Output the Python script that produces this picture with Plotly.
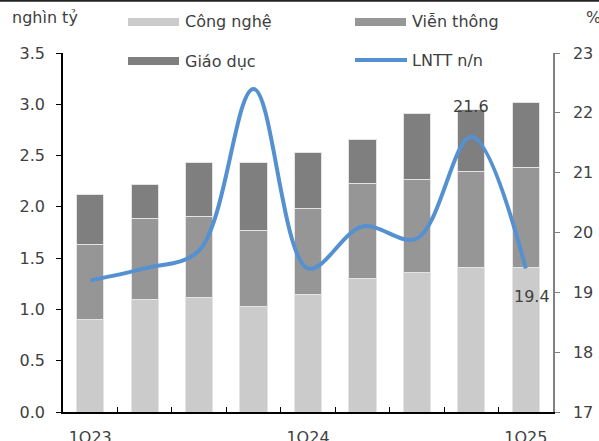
import plotly.graph_objects as go

# Quarterly data
quarters = ["1Q23", "2Q23", "3Q23", "4Q23", "1Q24", "2Q24", "3Q24", "4Q24", "1Q25"]
tick_text = ["1Q23", "", "", "", "1Q24", "", "", "", "1Q25"]
cong_nghe = [0.90, 1.10, 1.12, 1.03, 1.15, 1.30, 1.36, 1.41, 1.41]
vien_thong = [0.73, 0.79, 0.79, 0.74, 0.83, 0.93, 0.91, 0.93, 0.97]
giao_duc = [0.49, 0.33, 0.52, 0.66, 0.55, 0.43, 0.64, 0.61, 0.64]
lntt_yoy = [19.2, 19.4, 19.7, 22.4, 19.4, 20.1, 19.9, 21.6, 19.4]
left_ticks = [0.0, 0.5, 1.0, 1.5, 2.0, 2.5, 3.0, 3.5]
right_ticks = [17, 18, 19, 20, 21, 22, 23]

FONT = "DejaVu Sans"
TXT = "#404040"
W, H = 599, 441
L, R, T, B = 63, 46, 53, 29
PW, PH = W - L - R, H - T - B


def px(x):
    return (x - L) / PW


def py(y):
    return (H - B - y) / PH


colors = {"Công nghệ": "#cbcbcb", "Viễn thông": "#969696", "Giáo dục": "#7f7f7f"}
line_color = "#5591d1"

fig = go.Figure()
for name, vals in [("Công nghệ", cong_nghe), ("Viễn thông", vien_thong), ("Giáo dục", giao_duc)]:
    fig.add_trace(go.Bar(
        x=quarters, y=vals, name=name, width=0.5,
        marker=dict(color=colors[name], line=dict(color="#e4e4e4", width=1)),
        showlegend=False,
    ))

fig.add_trace(go.Scatter(
    x=quarters, y=lntt_yoy, name="LNTT n/n", yaxis="y2", mode="lines",
    line=dict(color=line_color, width=4, shape="spline", smoothing=1.0),
    showlegend=False,
))

# value labels on the last two points of the line
fig.add_annotation(x=quarters[7], y=lntt_yoy[7], yref="y2", text=f"{lntt_yoy[7]:.1f}",
                   showarrow=False, yshift=30, font=dict(family=FONT, size=16, color=TXT))
fig.add_annotation(x=quarters[8], y=lntt_yoy[8], yref="y2", text=f"{lntt_yoy[8]:.1f}",
                   showarrow=False, yshift=-28, xshift=6, font=dict(family=FONT, size=16, color=TXT))

# legend drawn as swatches + labels in a 2x2 grid
legend_items = [
    ("Công nghệ", 128, 22, "bar"),
    ("Viễn thông", 355, 22, "bar"),
    ("Giáo dục", 128, 61, "bar"),
    ("LNTT n/n", 355, 60, "line"),
]
shapes = []
for name, x0, yc, kind in legend_items:
    if kind == "bar":
        shapes.append(dict(type="rect", xref="paper", yref="paper",
                           x0=px(x0), x1=px(x0 + 51), y0=py(yc - 4), y1=py(yc + 4),
                           fillcolor=colors[name], line=dict(width=0)))
    else:
        shapes.append(dict(type="line", xref="paper", yref="paper",
                           x0=px(x0), x1=px(x0 + 52), y0=py(yc), y1=py(yc),
                           line=dict(color=line_color, width=4)))
    fig.add_annotation(xref="paper", yref="paper", x=px(x0 + 55), y=py(yc), text=name,
                       showarrow=False, xanchor="left", yanchor="middle",
                       font=dict(family=FONT, size=16, color=TXT))

# unit labels
fig.add_annotation(xref="paper", yref="paper", x=px(10), y=py(18), text="nghìn tỷ",
                   showarrow=False, xanchor="left", yanchor="middle",
                   font=dict(family=FONT, size=16, color=TXT))
fig.add_annotation(xref="paper", yref="paper", x=px(584), y=py(18), text="%",
                   showarrow=False, xanchor="left", yanchor="middle",
                   font=dict(family=FONT, size=16, color=TXT))

# thin frame line along the top edge
shapes.append(dict(type="line", xref="paper", yref="paper", x0=px(0), x1=px(W),
                   y0=py(0.8), y1=py(0.8), line=dict(color="#222222", width=2)))

fig.update_layout(
    width=W, height=H, barmode="stack",
    margin=dict(l=L, r=R, t=T, b=B, autoexpand=False),
    paper_bgcolor="white", plot_bgcolor="white",
    showlegend=False, shapes=shapes,
    font=dict(family=FONT, size=16, color=TXT),
    xaxis=dict(
        type="category", tickmode="array", tickvals=quarters, ticktext=tick_text,
        tickson="boundaries", ticks="inside", ticklen=5, tickcolor="#000000",
        showline=True, linecolor="#000000", linewidth=1.5, showgrid=False,
        ticklabelstandoff=10, tickfont=dict(family=FONT, size=16, color=TXT),
        range=[-0.5, 8.5], automargin=False,
    ),
    yaxis=dict(
        range=[0, 3.5], tickmode="array", tickvals=left_ticks, tickformat=".1f",
        ticks="outside", ticklen=5, tickcolor="#000000",
        showline=True, linecolor="#000000", linewidth=1.5, showgrid=False,
        zeroline=False, ticklabelstandoff=8, automargin=False,
        tickfont=dict(family=FONT, size=16, color=TXT),
    ),
    yaxis2=dict(
        range=[17, 23], overlaying="y", side="right", tickmode="array", tickvals=right_ticks,
        ticks="outside", ticklen=5, tickcolor="#808080",
        showline=True, linecolor="#808080", linewidth=1.5, showgrid=False,
        zeroline=False, ticklabelstandoff=10, automargin=False,
        tickfont=dict(family=FONT, size=16, color=TXT),
    ),
)

fig.write_html("out.html")
